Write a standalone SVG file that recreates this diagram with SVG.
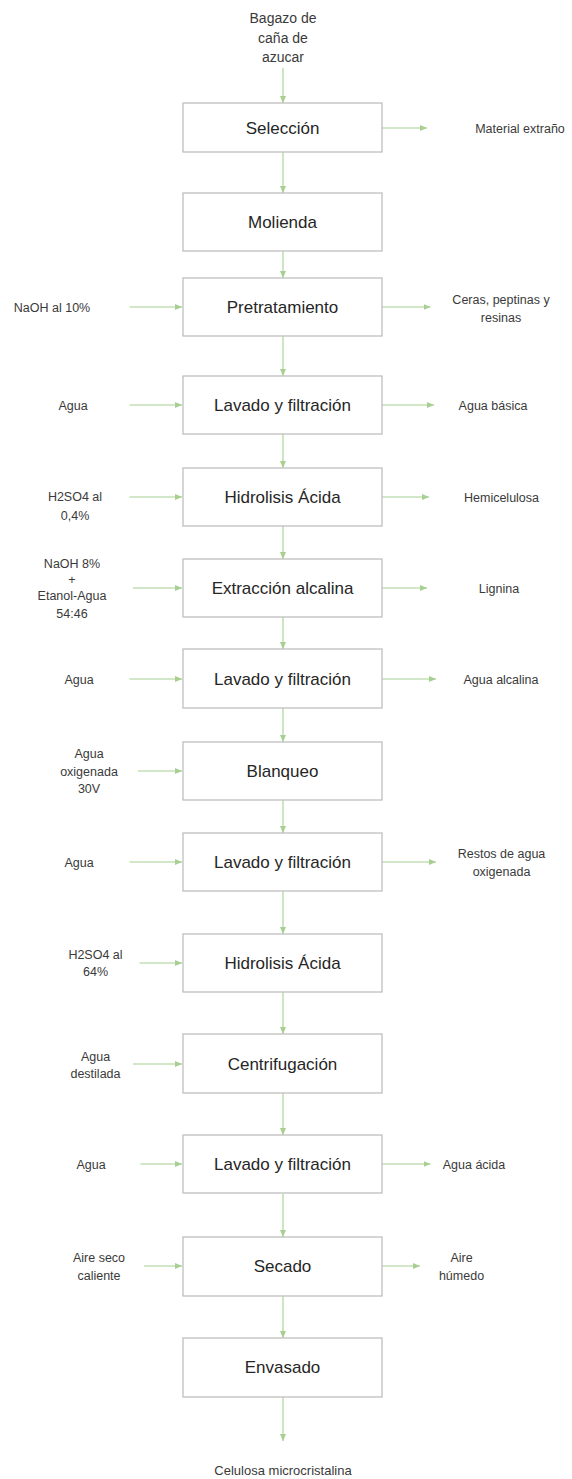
<svg xmlns="http://www.w3.org/2000/svg" width="572" height="1479" viewBox="0 0 572 1479">
<style>
.bg{fill:#ffffff}
.box{fill:#ffffff;stroke:#bfbfbf;stroke-width:1.3}
.lbl{font-family:"Liberation Sans",Arial,sans-serif;font-size:17px;fill:#262626;text-anchor:middle}
.side{font-family:"Liberation Sans",Arial,sans-serif;font-size:12.5px;fill:#3a3a3a;text-anchor:middle}
.top{font-family:"Liberation Sans",Arial,sans-serif;font-size:14px;fill:#3a3a3a;text-anchor:middle}
.bot{font-family:"Liberation Sans",Arial,sans-serif;font-size:13px;fill:#3a3a3a;text-anchor:middle}
.ar{fill:none;stroke:#a6cf90;stroke-width:1.1;marker-end:url(#ah)}
</style>
<defs>
<marker id="ah" markerUnits="userSpaceOnUse" markerWidth="8" markerHeight="8" refX="7" refY="3" orient="auto">
<path d="M0,0 L7,3 L0,6 Z" fill="#a6cf90"/>
</marker>
</defs>
<rect class="bg" x="0" y="0" width="572" height="1479"/>

<g id="connectors">
<line class="ar" x1="283" y1="68" x2="283" y2="103"/>
<line class="ar" x1="283" y1="152" x2="283" y2="193"/>
<line class="ar" x1="283" y1="251" x2="283" y2="278"/>
<line class="ar" x1="283" y1="336" x2="283" y2="376"/>
<line class="ar" x1="283" y1="434" x2="283" y2="468"/>
<line class="ar" x1="283" y1="526" x2="283" y2="559"/>
<line class="ar" x1="283" y1="617" x2="283" y2="649"/>
<line class="ar" x1="283" y1="708" x2="283" y2="742"/>
<line class="ar" x1="283" y1="800" x2="283" y2="833"/>
<line class="ar" x1="283" y1="891" x2="283" y2="934"/>
<line class="ar" x1="283" y1="992" x2="283" y2="1034"/>
<line class="ar" x1="283" y1="1093" x2="283" y2="1135"/>
<line class="ar" x1="283" y1="1194" x2="283" y2="1237"/>
<line class="ar" x1="283" y1="1296" x2="283" y2="1338"/>
<line class="ar" x1="283" y1="1397" x2="283" y2="1441"/>

<line class="ar" x1="129.5" y1="307" x2="182" y2="307"/>
<line class="ar" x1="129.5" y1="405" x2="182" y2="405"/>
<line class="ar" x1="129.5" y1="497" x2="182" y2="497"/>
<line class="ar" x1="133" y1="588" x2="182" y2="588"/>
<line class="ar" x1="129.5" y1="679" x2="182" y2="679"/>
<line class="ar" x1="138" y1="771" x2="182" y2="771"/>
<line class="ar" x1="129.5" y1="862" x2="182" y2="862"/>
<line class="ar" x1="139.5" y1="963" x2="182" y2="963"/>
<line class="ar" x1="133" y1="1064" x2="182" y2="1064"/>
<line class="ar" x1="140.5" y1="1164" x2="182" y2="1164"/>
<line class="ar" x1="144" y1="1266" x2="182" y2="1266"/>

<line class="ar" x1="382" y1="128" x2="427" y2="128"/>
<line class="ar" x1="382" y1="307" x2="430.5" y2="307"/>
<line class="ar" x1="382" y1="405" x2="434" y2="405"/>
<line class="ar" x1="382" y1="497" x2="429" y2="497"/>
<line class="ar" x1="382" y1="588" x2="427" y2="588"/>
<line class="ar" x1="382" y1="679" x2="436" y2="679"/>
<line class="ar" x1="382" y1="862" x2="436" y2="862"/>
<line class="ar" x1="382" y1="1164" x2="430.5" y2="1164"/>
<line class="ar" x1="382" y1="1266" x2="420" y2="1266"/>
</g>

<g id="n-input">
<text class="top" x="283" y="23">Bagazo de</text>
<text class="top" x="283" y="43">caña de</text>
<text class="top" x="283" y="62">azucar</text>
</g>

<g id="n1"><rect class="box" x="183" y="103" width="199" height="49"/><text class="lbl" x="282.5" y="133.5">Selección</text></g>
<g id="n2"><rect class="box" x="183" y="193" width="199" height="58"/><text class="lbl" x="282.5" y="228">Molienda</text></g>
<g id="n3"><rect class="box" x="183" y="278" width="199" height="58"/><text class="lbl" x="282.5" y="313">Pretratamiento</text></g>
<g id="n4"><rect class="box" x="183" y="376" width="199" height="58"/><text class="lbl" x="282.5" y="411">Lavado y filtración</text></g>
<g id="n5"><rect class="box" x="183" y="468" width="199" height="58"/><text class="lbl" x="282.5" y="503">Hidrolisis Ácida</text></g>
<g id="n6"><rect class="box" x="183" y="559" width="199" height="58"/><text class="lbl" x="282.5" y="594">Extracción alcalina</text></g>
<g id="n7"><rect class="box" x="183" y="649" width="199" height="59"/><text class="lbl" x="282.5" y="685">Lavado y filtración</text></g>
<g id="n8"><rect class="box" x="183" y="742" width="199" height="58"/><text class="lbl" x="282.5" y="777">Blanqueo</text></g>
<g id="n9"><rect class="box" x="183" y="833" width="199" height="58"/><text class="lbl" x="282.5" y="868">Lavado y filtración</text></g>
<g id="n10"><rect class="box" x="183" y="934" width="199" height="58"/><text class="lbl" x="282.5" y="969">Hidrolisis Ácida</text></g>
<g id="n11"><rect class="box" x="183" y="1034" width="199" height="59"/><text class="lbl" x="282.5" y="1070">Centrifugación</text></g>
<g id="n12"><rect class="box" x="183" y="1135" width="199" height="58"/><text class="lbl" x="282.5" y="1170">Lavado y filtración</text></g>
<g id="n13"><rect class="box" x="183" y="1237" width="199" height="59"/><text class="lbl" x="282.5" y="1272">Secado</text></g>
<g id="n14"><rect class="box" x="183" y="1338" width="199" height="59"/><text class="lbl" x="282.5" y="1373">Envasado</text></g>

<g id="in3"><text class="side" x="52" y="311.5">NaOH al 10%</text></g>
<g id="in4"><text class="side" x="73" y="409.5">Agua</text></g>
<g id="in5"><text class="side" x="75" y="501">H2SO4 al</text><text class="side" x="75" y="519.5">0,4%</text></g>
<g id="in6"><text class="side" x="72" y="567.5">NaOH 8%</text><text class="side" x="72" y="583.5">+</text><text class="side" x="72" y="599.5">Etanol-Agua</text><text class="side" x="72" y="617.5">54:46</text></g>
<g id="in7"><text class="side" x="79" y="683.5">Agua</text></g>
<g id="in8"><text class="side" x="89" y="757.5">Agua</text><text class="side" x="89" y="775.5">oxigenada</text><text class="side" x="89" y="792.5">30V</text></g>
<g id="in9"><text class="side" x="79" y="866.5">Agua</text></g>
<g id="in10"><text class="side" x="95.5" y="958.5">H2SO4 al</text><text class="side" x="95.5" y="975.5">64%</text></g>
<g id="in11"><text class="side" x="95.5" y="1060.5">Agua</text><text class="side" x="95.5" y="1077.5">destilada</text></g>
<g id="in12"><text class="side" x="91" y="1168.5">Agua</text></g>
<g id="in13"><text class="side" x="99" y="1261.5">Aire seco</text><text class="side" x="99" y="1279.5">caliente</text></g>

<g id="out1"><text class="side" x="520" y="132.5">Material extraño</text></g>
<g id="out3"><text class="side" x="501" y="303.5">Ceras, peptinas y</text><text class="side" x="501" y="321.5">resinas</text></g>
<g id="out4"><text class="side" x="493" y="409.5">Agua básica</text></g>
<g id="out5"><text class="side" x="501.5" y="501.5">Hemicelulosa</text></g>
<g id="out6"><text class="side" x="499" y="592.5">Lignina</text></g>
<g id="out7"><text class="side" x="501" y="683.5">Agua alcalina</text></g>
<g id="out9"><text class="side" x="501.5" y="857.5">Restos de agua</text><text class="side" x="501.5" y="875.5">oxigenada</text></g>
<g id="out12"><text class="side" x="474" y="1168.5">Agua ácida</text></g>
<g id="out13"><text class="side" x="461.5" y="1261.5">Aire</text><text class="side" x="461.5" y="1279.5">húmedo</text></g>

<g id="n-output"><text class="bot" x="283" y="1474.5">Celulosa microcristalina</text></g>
</svg>
